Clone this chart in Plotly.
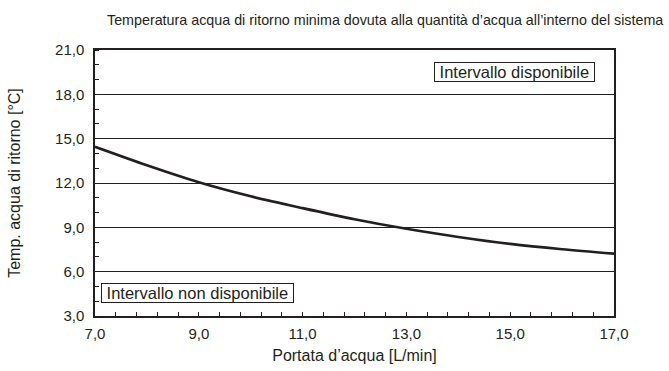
import plotly.graph_objects as go

flow = [7.0, 8.0, 9.0, 10.0, 11.0, 12.0, 13.0, 14.0, 15.0, 16.0, 17.0]
temp_min = [14.45, 13.2, 12.05, 11.1, 10.3, 9.55, 8.9, 8.35, 7.88, 7.52, 7.22]

x_ticks = [7.0, 9.0, 11.0, 13.0, 15.0, 17.0]
y_ticks = [3.0, 6.0, 9.0, 12.0, 15.0, 18.0, 21.0]

title_text = "Temperatura acqua di ritorno minima dovuta alla quantità d’acqua all’interno del sistema"
x_title = "Portata d’acqua [L/min]"
y_title = "Temp. acqua di ritorno [°C]"
label_ok = "Intervallo disponibile"
label_ko = "Intervallo non disponibile"

ink = "#231f20"
font = "Liberation Sans, Arial, sans-serif"
pad = "\u00a0"

fig = go.Figure()
fig.add_trace(go.Scatter(x=flow, y=temp_min, mode="lines",
                         line=dict(color=ink, width=2.6, shape="spline", smoothing=0.8),
                         showlegend=False, hoverinfo="skip"))

fig.update_layout(
    width=669, height=371,
    margin=dict(l=95, r=55, t=50, b=55),
    paper_bgcolor="white", plot_bgcolor="white",
    separators=",.",
    font=dict(family=font, color=ink, size=15),
    showlegend=False,
)

fig.update_xaxes(
    range=[7, 17], tickvals=x_ticks, tickformat=".1f", automargin=False,
    showgrid=False, zeroline=False,
    showline=True, linecolor=ink, linewidth=1.5, mirror=True,
    ticks="inside", ticklen=4, tickcolor=ink, tickwidth=1,
    ticklabelstandoff=3,
    minor=dict(dtick=0.4, tick0=7, ticks="inside", ticklen=4, tickcolor=ink, tickwidth=1, showgrid=False),
    tickfont=dict(size=15),
    title=dict(text=x_title, font=dict(size=16), standoff=9),
)
fig.update_yaxes(
    range=[3, 21], tickvals=y_ticks, tickformat=".1f", automargin=False,
    showgrid=True, gridcolor=ink, gridwidth=1, zeroline=False,
    showline=True, linecolor=ink, linewidth=1.5, mirror=True,
    ticks="",
    ticklabelstandoff=6,
    minor=dict(dtick=1, tick0=3, ticks="inside", ticklen=4, tickcolor=ink, tickwidth=1, showgrid=False),
    tickfont=dict(size=15),
    title=dict(text=y_title, font=dict(size=16), standoff=30),
)

fig.add_annotation(xref="paper", yref="paper", x=(665 - 95) / 519, y=1.0, yshift=30,
                   xanchor="right", yanchor="middle", showarrow=False,
                   text=title_text, font=dict(size=14.3, color=ink))

fig.add_annotation(x=15.09, y=19.5, text=pad + label_ok + pad, showarrow=False,
                   bordercolor=ink, borderwidth=1, borderpad=0, bgcolor="white",
                   font=dict(size=16.5, color=ink))
fig.add_annotation(x=8.98, y=4.53, text=pad + label_ko + pad, showarrow=False,
                   bordercolor=ink, borderwidth=1, borderpad=0, bgcolor="white",
                   font=dict(size=16.5, color=ink))

fig.write_html("out.html", config={"displayModeBar": False},
               post_script="document.body.style.margin='0';")
